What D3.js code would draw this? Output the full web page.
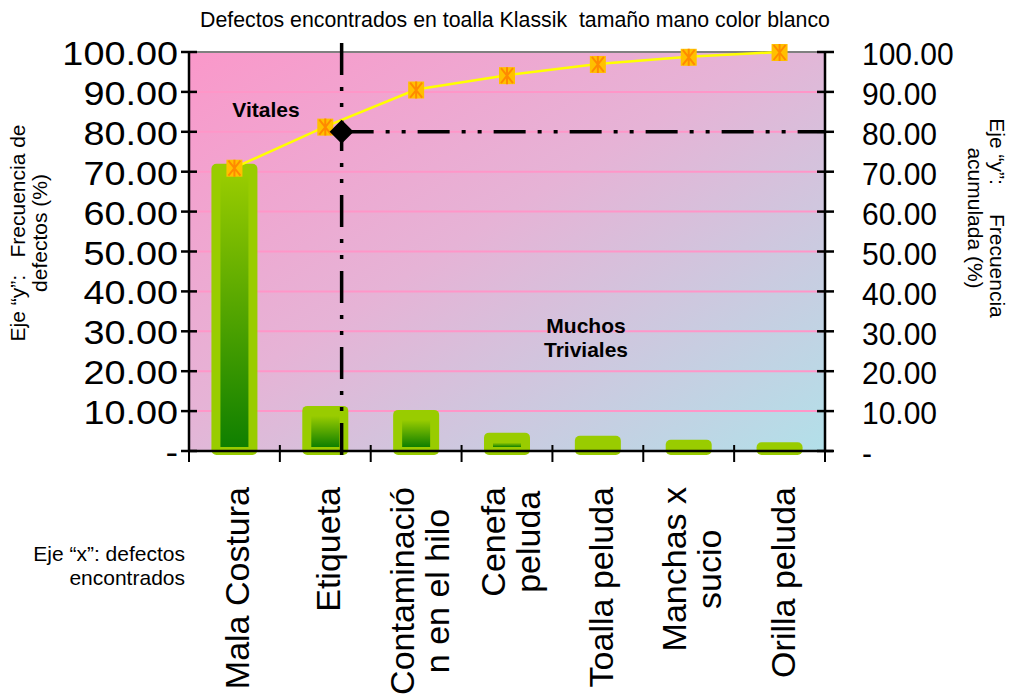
<!DOCTYPE html>
<html>
<head>
<meta charset="utf-8">
<script src="https://cdn.jsdelivr.net/npm/d3@7"></script>
<style>
  body { margin: 0; background: #ffffff; }
  text { font-family: "Liberation Sans", Arial, sans-serif; fill: #000; }
</style>
</head>
<body>
<svg id="chart" width="1014" height="696"></svg>
<script>
// Pareto data: defect categories, share of defects (%) and cumulative share (%)
const categories = [
  "Mala Costura",
  "Etiqueta",
  "Contaminació\nn en el hilo",
  "Cenefa\npeluda",
  "Toalla peluda",
  "Manchas x\nsucio",
  "Orilla peluda"
];
const frequency = [71.0, 10.3, 9.3, 3.6, 2.8, 1.8, 1.2];
const cumulative = [71.0, 81.3, 90.6, 94.2, 97.0, 98.8, 100.0];
const yTicks = [0, 10, 20, 30, 40, 50, 60, 70, 80, 90, 100];
const cutoffValue = 80;      // cumulative % that separates the vital few
const cutoffCategory = 1.68; // position along the category axis (in category units)

const svg = d3.select("#chart");
const plotLeft = 189, plotRight = 825, plotTop = 52, plotBottom = 451;

const x = d3.scaleBand().domain(categories).range([plotLeft, plotRight]).padding(0);
const xPos = d3.scaleLinear().domain([0, categories.length]).range([plotLeft, plotRight]);
const y = d3.scaleLinear().domain([0, 100]).range([plotBottom, plotTop]);
const cx = d => x(d) + x.bandwidth() / 2;

const defs = svg.append("defs");
const bg = defs.append("linearGradient").attr("id", "plotBg")
  .attr("x1", 0).attr("y1", 0).attr("x2", 1).attr("y2", 1);
bg.append("stop").attr("offset", 0).attr("stop-color", "#fa98ca");
bg.append("stop").attr("offset", 0.45).attr("stop-color", "#e6b3d6");
bg.append("stop").attr("offset", 1).attr("stop-color", "#b2e0e9");

const barGrad = defs.append("linearGradient").attr("id", "barInner")
  .attr("x1", 0).attr("y1", 0).attr("x2", 0).attr("y2", 1);
barGrad.append("stop").attr("offset", 0).attr("stop-color", "#99cc00");
barGrad.append("stop").attr("offset", 1).attr("stop-color", "#0f7f00");

// Title
svg.append("text")
  .attr("x", 515).attr("y", 27)
  .attr("text-anchor", "middle")
  .style("font-size", "21.3px")
  .style("white-space", "pre")
  .text("Defectos encontrados en toalla Klassik  tamaño mano color blanco");

// Plot background
svg.append("rect")
  .attr("x", plotLeft).attr("y", plotTop)
  .attr("width", plotRight - plotLeft).attr("height", plotBottom - plotTop)
  .attr("fill", "url(#plotBg)");

// Horizontal gridlines
svg.append("g").selectAll("line")
  .data(yTicks.filter(t => t > 0 && t < 100))
  .join("line")
  .attr("x1", plotLeft).attr("x2", plotRight)
  .attr("y1", d => y(d)).attr("y2", d => y(d))
  .attr("stroke", "#ff96c8").attr("stroke-width", 2);

// Top border of plot area
svg.append("line")
  .attr("x1", plotLeft).attr("x2", plotRight)
  .attr("y1", y(100)).attr("y2", y(100))
  .attr("stroke", "#808080").attr("stroke-width", 2);

// Bars: light green frame with a darker gradient core
const barW = 46, coreW = 28;
const bars = svg.append("g").selectAll("g")
  .data(categories.map((c, i) => ({ c, v: frequency[i] })))
  .join("g");
bars.append("rect")
  .attr("x", d => cx(d.c) - barW / 2)
  .attr("width", barW)
  .attr("y", d => y(d.v) - 4)
  .attr("height", d => y(0) - y(d.v) + 8)
  .attr("rx", 5)
  .attr("fill", "#99cc00");
bars.filter(d => (y(0) - 4) - (y(d.v) + 6) > 2).append("rect")
  .attr("x", d => cx(d.c) - coreW / 2)
  .attr("width", coreW)
  .attr("y", d => y(d.v) + 6)
  .attr("height", d => (y(0) - 4) - (y(d.v) + 6))
  .attr("fill", "url(#barInner)");

// Cut-off lines (dash-dot-dot)
const dashPattern = "32,12,4,12,4,12";
svg.append("line")
  .attr("x1", xPos(cutoffCategory)).attr("x2", xPos(cutoffCategory))
  .attr("y1", 43).attr("y2", 463)
  .attr("stroke", "#000").attr("stroke-width", 3.5)
  .attr("stroke-dasharray", dashPattern);
svg.append("line")
  .attr("x1", xPos(cutoffCategory)).attr("x2", plotRight)
  .attr("y1", y(cutoffValue)).attr("y2", y(cutoffValue))
  .attr("stroke", "#000").attr("stroke-width", 3.5)
  .attr("stroke-dasharray", dashPattern);

// Left axis
svg.append("line")
  .attr("x1", plotLeft).attr("x2", plotLeft).attr("y1", plotTop).attr("y2", plotBottom)
  .attr("stroke", "#000").attr("stroke-width", 2.5);
svg.append("g").selectAll("line").data(yTicks).join("line")
  .attr("x1", plotLeft - 8).attr("x2", plotLeft + 8)
  .attr("y1", d => y(d)).attr("y2", d => y(d))
  .attr("stroke", "#000").attr("stroke-width", 2.5);
const fmt = v => v === 0 ? "-" : d3.format(".2f")(v);
// left labels are set a little wider than the right ones
svg.append("g").selectAll("text").data(yTicks).join("text")
  .attr("transform", d => `translate(${plotLeft - 11},${y(d)}) scale(1.22,1.05)`)
  .attr("dy", "0.4em")
  .attr("text-anchor", "end")
  .style("font-size", "31px")
  .text(fmt);

// Right axis
svg.append("line")
  .attr("x1", plotRight).attr("x2", plotRight).attr("y1", plotTop).attr("y2", plotBottom)
  .attr("stroke", "#000").attr("stroke-width", 2.5);
svg.append("g").selectAll("line").data(yTicks).join("line")
  .attr("x1", plotRight - 8).attr("x2", plotRight + 9)
  .attr("y1", d => y(d)).attr("y2", d => y(d))
  .attr("stroke", "#000").attr("stroke-width", 2.5);
svg.append("g").selectAll("text").data(yTicks).join("text")
  .attr("transform", d => `translate(${plotRight + 37},${y(d)}) scale(1,1.05)`)
  .attr("dy", "0.42em")
  .attr("text-anchor", "start")
  .style("font-size", "30px")
  .text(fmt);

// Category axis
svg.append("line")
  .attr("x1", plotLeft).attr("x2", plotRight + 8).attr("y1", plotBottom).attr("y2", plotBottom)
  .attr("stroke", "#000").attr("stroke-width", 2.5);
svg.append("g").selectAll("line")
  .data(d3.range(categories.length + 1))
  .join("line")
  .attr("x1", d => xPos(d)).attr("x2", d => xPos(d))
  .attr("y1", plotBottom - 6).attr("y2", plotBottom + 11)
  .attr("stroke", "#000").attr("stroke-width", 2);

// Cumulative line with markers
const linePts = categories.map((c, i) => [cx(c), y(cumulative[i])]);
svg.append("path")
  .attr("d", d3.line()(linePts))
  .attr("fill", "none")
  .attr("stroke", "#ffff00").attr("stroke-width", 2.5);
const marks = svg.append("g").selectAll("g").data(linePts).join("g")
  .attr("transform", d => `translate(${d[0]},${d[1]})`);
marks.append("rect")
  .attr("x", -8).attr("y", -8).attr("width", 16).attr("height", 17)
  .attr("fill", "#ffc000");
marks.append("path")
  .attr("d", "M-6,-7L6,8M-6,8L6,-7M0,-8L0,9")
  .attr("stroke", "#ff8a00").attr("stroke-width", 2).attr("fill", "none");

// Cut-off point marker
svg.append("path")
  .attr("transform", `translate(${xPos(cutoffCategory)},${y(cutoffValue)})`)
  .attr("d", "M0,-12L12,0L0,12L-12,0Z")
  .attr("fill", "#000");

// Region annotations
svg.append("text")
  .attr("x", 266).attr("y", 117)
  .attr("text-anchor", "middle")
  .style("font-size", "21px").style("font-weight", "bold")
  .text("Vitales");
const muchos = svg.append("text")
  .attr("text-anchor", "middle")
  .style("font-size", "21px").style("font-weight", "bold");
muchos.append("tspan").attr("x", 586).attr("y", 333).text("Muchos");
muchos.append("tspan").attr("x", 586).attr("y", 357).text("Triviales");

// Category labels, rotated, block aligned at the top
const labelTop = 487, lineGap = 35, labelSize = 34;
categories.forEach(c => {
  const lines = c.split("\n");
  const g = svg.append("g");
  const texts = lines.map(ln =>
    g.append("text")
      .attr("text-anchor", "middle")
      .style("font-size", labelSize + "px")
      .text(ln));
  const maxW = d3.max(texts, t => t.node().getComputedTextLength());
  texts.forEach((t, i) => {
    const bx = cx(c) + 15 + (i - (lines.length - 1) / 2) * lineGap;
    t.attr("transform", `translate(${bx},${labelTop + maxW / 2}) rotate(-90)`);
  });
});

// Axis titles
const yTitleL = svg.append("text")
  .attr("transform", "translate(24.5,233) rotate(-90)")
  .attr("text-anchor", "middle")
  .style("font-size", "21px").style("white-space", "pre");
yTitleL.append("tspan").attr("x", 0).attr("y", 0).text("Eje “y”:   Frecuencia de");
yTitleL.append("tspan").attr("x", 0).attr("y", 22.5).text("defectos (%)");

const yTitleR = svg.append("text")
  .attr("transform", "translate(990,218) rotate(90)")
  .attr("text-anchor", "middle")
  .style("font-size", "21px").style("white-space", "pre");
yTitleR.append("tspan").attr("x", 0).attr("y", 0).text("Eje “y”:     Frecuencia");
yTitleR.append("tspan").attr("x", 0).attr("y", 22).text("acumulada (%)");

const xTitle = svg.append("text")
  .attr("text-anchor", "end")
  .style("font-size", "21px");
xTitle.append("tspan").attr("x", 185).attr("y", 561).text("Eje “x”: defectos");
xTitle.append("tspan").attr("x", 185).attr("y", 585).text("encontrados");
</script>
</body>
</html>
